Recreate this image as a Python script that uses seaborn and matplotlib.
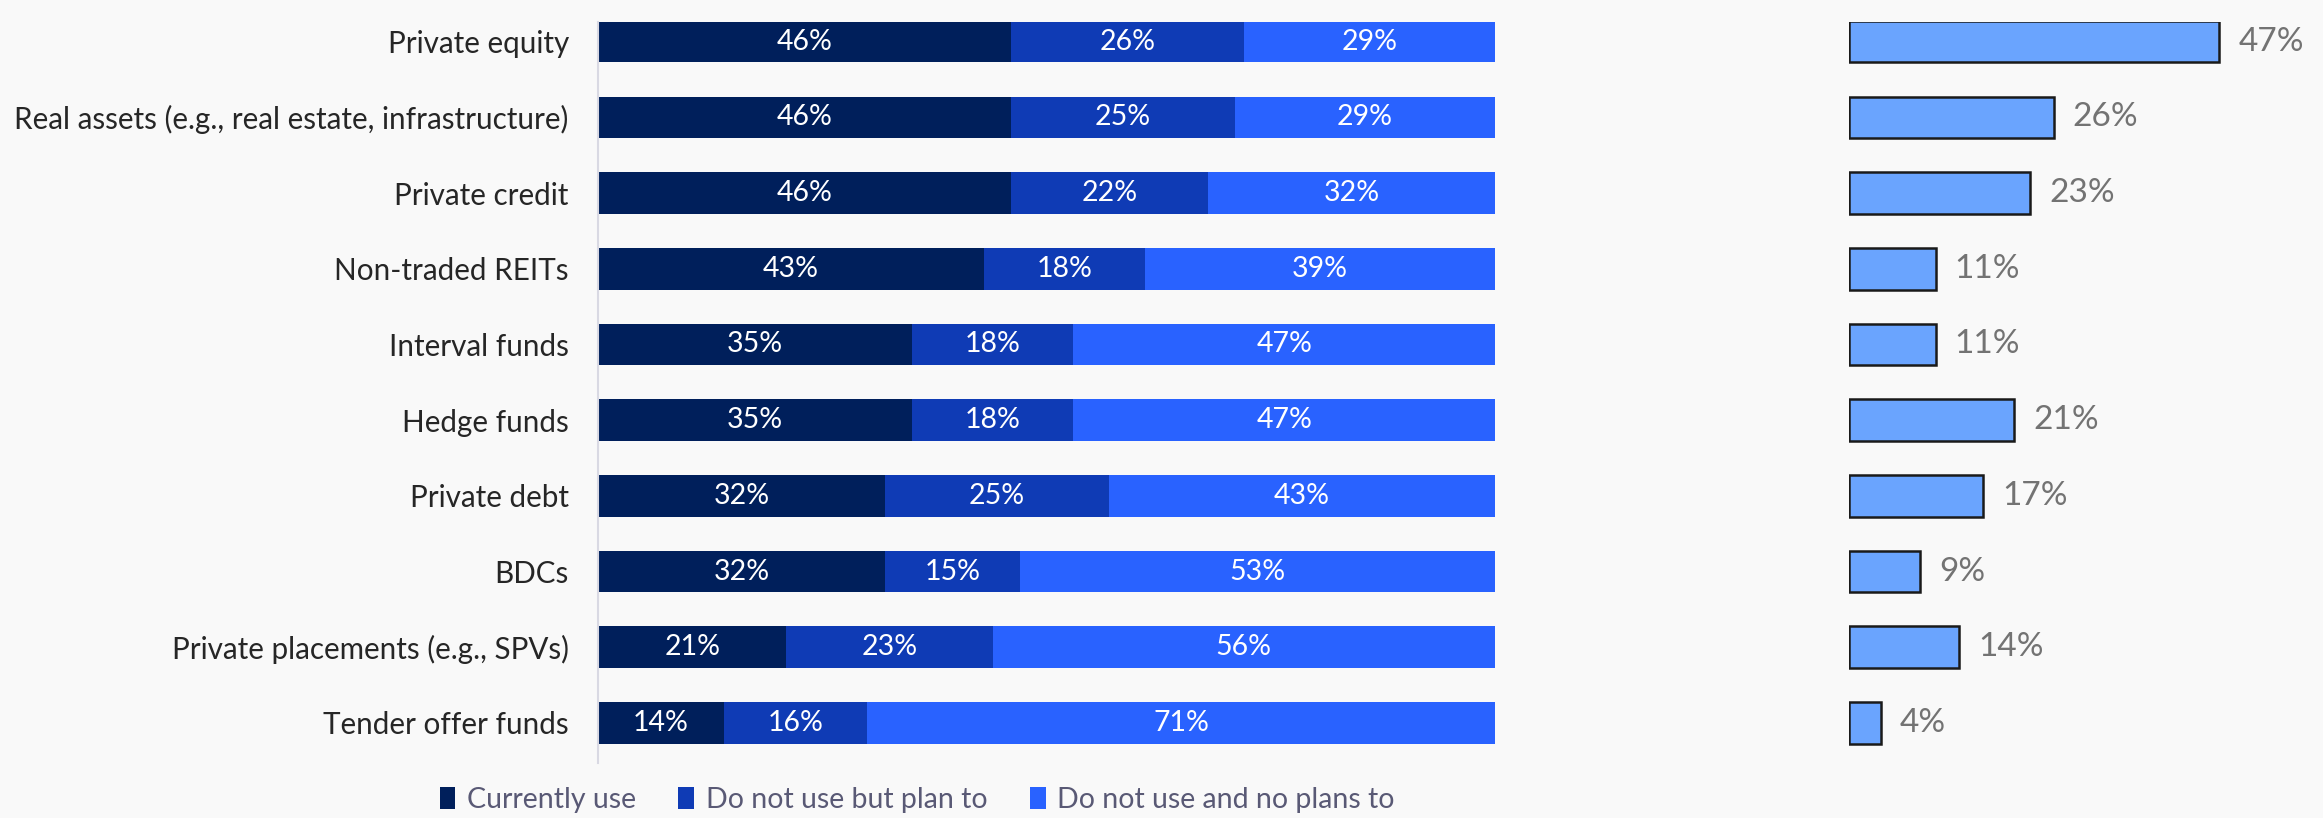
import matplotlib
matplotlib.use("Agg")
import matplotlib.pyplot as plt
from matplotlib.patches import Patch
import seaborn as sns
import pandas as pd
import numpy as np

categories = ["Private equity", "Real assets (e.g., real estate, infrastructure)",
              "Private credit", "Non-traded REITs", "Interval funds", "Hedge funds",
              "Private debt", "BDCs", "Private placements (e.g., SPVs)", "Tender offer funds"]
currently_use = [46, 46, 46, 43, 35, 35, 32, 32, 21, 14]
plan_to = [26, 25, 22, 18, 18, 18, 25, 15, 23, 16]
no_plans = [29, 29, 32, 39, 47, 47, 43, 53, 56, 71]
right_values = [47, 26, 23, 11, 11, 21, 17, 9, 14, 4]
series_names = ["Currently use", "Do not use but plan to", "Do not use and no plans to"]

C_NAVY = "#001F5B"
C_MID = "#0F3BB5"
C_BRIGHT = "#2962FF"
C_RIGHT = "#6AA4FE"
BG = "#F9F9F9"

sns.set_style("white")
plt.rcParams["font.family"] = ["Lato", "DejaVu Sans"]

df = pd.DataFrame({"cat": categories, "cur": currently_use, "plan": plan_to,
                   "no": no_plans, "right": right_values})
df["c1"] = df["cur"]
df["c2"] = df["cur"] + df["plan"]
df["c3"] = 100.0

W, H = 2323, 818
fig = plt.figure(figsize=(W / 100, H / 100), dpi=100, facecolor=BG)

top_px, bot_px = 22, 763
ax = fig.add_axes([598 / W, 1 - bot_px / H, (1495 - 598) / W, (bot_px - top_px) / H])
ax.set_facecolor(BG)
bw = 0.55
sns.barplot(data=df, y="cat", x="c3", color=C_BRIGHT, orient="h", width=bw, ax=ax, saturation=1)
sns.barplot(data=df, y="cat", x="c2", color=C_MID, orient="h", width=bw, ax=ax, saturation=1)
sns.barplot(data=df, y="cat", x="c1", color=C_NAVY, orient="h", width=bw, ax=ax, saturation=1)
for p in ax.patches:
    p.set_linewidth(0)
ax.set_xlim(0, 100)
ax.set_ylim(9.53, -0.26)
ax.set_xlabel("")
ax.set_ylabel("")
ax.set_xticks([])
for s in ["top", "right", "bottom"]:
    ax.spines[s].set_visible(False)
ax.spines["left"].set_color("#D9D9E3")
ax.spines["left"].set_linewidth(1.5)
ax.tick_params(axis="y", length=0, pad=21, labelsize=21.3, labelcolor="#262626")

for i, r in df.iterrows():
    starts = [0, r["c1"], r["c2"]]
    ends = [r["c1"], r["c2"], r["c3"]]
    vals = [r["cur"], r["plan"], r["no"]]
    for s, e, v in zip(starts, ends, vals):
        ax.text((s + e) / 2, i, f"{v}%", ha="center", va="center", color="white", fontsize=20.5)

# right panel
ax2 = fig.add_axes([1849 / W, 1 - bot_px / H, (2320 - 1849) / W, (bot_px - top_px) / H])
ax2.set_facecolor(BG)
sns.barplot(data=df, y="cat", x="right", color=C_RIGHT, orient="h", width=bw, ax=ax2,
            saturation=1, edgecolor="#1A1A1A", linewidth=1.8)
ax2.set_xlim(0, 471 / 7.88)
ax2.set_ylim(9.53, -0.26)
ax2.axis("off")
for i, r in df.iterrows():
    ax2.text(r["right"] + 2.4, i, f"{r['right']}%", ha="left", va="center",
             color="#737373", fontsize=24)

handles = [Patch(facecolor=c, edgecolor="none") for c in [C_NAVY, C_MID, C_BRIGHT]]
fig.legend(handles, series_names, loc="center", bbox_to_anchor=(917 / W, 1 - 800 / H),
           ncol=3, frameon=False, fontsize=20.5, handlelength=0.55, handleheight=0.8,
           handletextpad=0.4, columnspacing=1.5, labelcolor="#595975")

fig.savefig("out.png", dpi=100, facecolor=BG)
